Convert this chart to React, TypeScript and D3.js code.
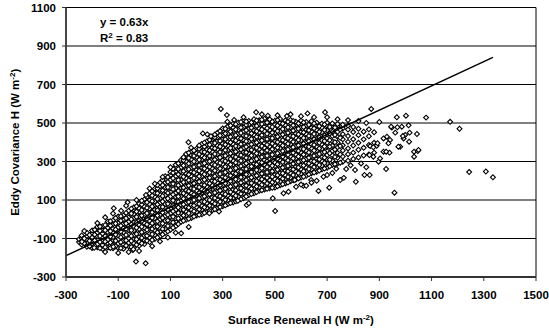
import React from "react";
import * as d3 from "d3";

// axis ticks
const xTicks = [-300, -100, 100, 300, 500, 700, 900, 1100, 1300, 1500];
const yTicks = [-300, -100, 100, 300, 500, 700, 900, 1100];

// trendline y = 0.63x, drawn over the data range
const slope = 0.63;
const rSquared = 0.83;
const fitFrom = -300;
const fitTo = 1335;

// dense cloud, read column by column (x, list of y)
const cloudColumns: [number, number[]][] = [
  [-250, [-118, -104]],
  [-240, [-131, -113, -98, -84]],
  [-220, [-143, -121, -106, -88, -70]],
  [-200, [-149, -128, -111, -93, -74, -58]],
  [-180, [-146, -130, -107, -88, -69, -52, -40]],
  [-160, [-154, -134, -115, -92, -75, -55, -36]],
  [-140, [-147, -124, -106, -83, -66, -44, -25, -12]],
  [-120, [-151, -133, -110, -92, -70, -49, -27, -6]],
  [-100, [-149, -126, -104, -85, -61, -42, -19, 4, 14]],
  [-80, [-153, -130, -112, -87, -68, -46, -24, -3, 20]],
  [-60, [-141, -122, -99, -79, -56, -35, -13, 9, 32, 44]],
  [-40, [-147, -125, -103, -83, -58, -39, -16, 5, 27, 50, 62]],
  [-20, [-138, -117, -92, -73, -51, -29, -8, 14, 38, 57, 80]],
  [0, [-129, -108, -86, -62, -44, -20, 3, 22, 46, 66, 89, 103]],
  [20, [-118, -95, -76, -51, -32, -8, 12, 36, 55, 79, 99, 122, 134]],
  [40, [-103, -81, -57, -38, -14, 5, 29, 49, 73, 92, 116, 136, 159]],
  [60, [-89, -64, -46, -21, -2, 22, 42, 65, 85, 109, 128, 152, 171, 190]],
  [80, [-72, -50, -26, -8, 17, 36, 61, 79, 104, 124, 147, 166, 191, 209, 224]],
  [100, [-55, -31, -13, 12, 30, 55, 74, 99, 118, 142, 161, 186, 204, 229, 246]],
  [120, [-37, -13, 5, 30, 49, 74, 93, 117, 136, 161, 180, 204, 223, 247, 266, 283]],
  [140, [-14, 8, 32, 51, 75, 95, 119, 138, 163, 182, 206, 225, 249, 268, 292, 307]],
  [160, [-3, 21, 40, 64, 84, 108, 127, 151, 171, 195, 214, 238, 258, 281, 301, 325, 339]],
  [180, [7, 31, 50, 74, 94, 118, 137, 161, 181, 204, 224, 248, 267, 291, 311, 334, 351]],
  [200, [19, 38, 63, 82, 106, 126, 149, 169, 193, 212, 236, 256, 279, 299, 323, 342, 366]],
  [220, [26, 50, 70, 93, 113, 137, 156, 180, 200, 223, 243, 267, 286, 310, 330, 351, 375, 391]],
  [240, [39, 59, 83, 102, 126, 146, 169, 189, 213, 232, 256, 276, 299, 319, 343, 362, 386, 405]],
  [260, [46, 70, 90, 113, 133, 157, 176, 200, 220, 241, 265, 285, 308, 328, 352, 371, 395, 415, 429]],
  [280, [59, 79, 103, 122, 146, 166, 189, 209, 233, 252, 276, 296, 319, 339, 363, 382, 406, 426, 449]],
  [300, [67, 91, 111, 134, 154, 178, 197, 221, 241, 262, 286, 306, 329, 349, 373, 392, 416, 436, 459, 471]],
  [320, [79, 99, 123, 142, 166, 186, 209, 229, 253, 272, 296, 316, 339, 359, 383, 402, 426, 446, 469, 483]],
  [340, [87, 111, 131, 154, 174, 198, 217, 241, 261, 284, 304, 328, 347, 371, 391, 414, 434, 458, 477, 496]],
  [360, [99, 119, 142, 162, 186, 205, 229, 249, 272, 292, 316, 335, 359, 379, 402, 422, 446, 465, 489, 502]],
  [380, [109, 133, 152, 176, 196, 219, 239, 263, 282, 306, 326, 349, 369, 393, 412, 436, 456, 479, 499, 513]],
  [400, [126, 145, 169, 189, 212, 232, 256, 275, 299, 319, 342, 362, 386, 405, 429, 449, 472, 492, 511]],
  [420, [135, 159, 178, 202, 222, 245, 265, 289, 308, 332, 352, 375, 395, 419, 438, 462, 482, 505, 520]],
  [440, [148, 167, 191, 211, 234, 254, 278, 297, 321, 341, 364, 384, 408, 427, 451, 471, 494, 515]],
  [460, [154, 178, 198, 221, 241, 265, 284, 308, 328, 351, 371, 395, 414, 438, 458, 481, 501, 522]],
  [480, [161, 181, 204, 224, 248, 267, 291, 311, 334, 354, 378, 397, 421, 441, 464, 484, 508, 519]],
  [500, [165, 189, 209, 232, 252, 276, 295, 319, 339, 362, 382, 406, 425, 449, 469, 492, 512]],
  [520, [177, 197, 220, 240, 264, 283, 307, 327, 350, 370, 394, 413, 437, 457, 480, 500, 521]],
  [540, [186, 210, 229, 253, 273, 296, 316, 340, 359, 383, 403, 426, 446, 470, 489, 513]],
  [560, [197, 217, 240, 260, 284, 303, 327, 347, 370, 390, 414, 433, 457, 477, 500, 516]],
  [580, [206, 230, 249, 273, 293, 316, 336, 360, 379, 403, 423, 446, 466, 490, 507]],
  [600, [217, 237, 260, 280, 304, 323, 347, 367, 390, 410, 434, 453, 477, 497, 512]],
  [620, [226, 250, 269, 293, 313, 336, 356, 380, 399, 423, 443, 466, 486, 505]],
  [640, [239, 259, 282, 302, 326, 345, 369, 389, 412, 432, 456, 475, 499, 509]],
  [660, [247, 271, 290, 314, 334, 357, 377, 401, 420, 444, 464, 487, 502]],
  [680, [259, 279, 303, 322, 346, 366, 389, 409, 433, 452, 476, 496]],
  [700, [267, 291, 311, 334, 354, 378, 397, 421, 441, 462, 486, 501]],
  [720, [282, 305, 332, 355, 382, 405, 432, 455, 482, 498]],
  [740, [289, 319, 344, 374, 399, 429, 454, 484, 495]],
  [760, [299, 326, 357, 384, 415, 442, 473, 491]],
  [780, [304, 338, 368, 402, 432, 466, 487]],
  [800, [313, 346, 383, 416, 453, 479]],
  [820, [321, 361, 397, 437, 470]],
  [840, [331, 371, 415, 455]],
  [860, [337, 386, 431, 467]],
  [880, [346, 397, 452]],
];

// in-between columns of the cloud (sparser)
const cloudMidColumns: [number, number[]][] = [
  [-230, [-125, -100]],
  [-210, [-140, -112, -82]],
  [-190, [-139, -110, -80, -55]],
  [-170, [-150, -118, -87, -60, -38]],
  [-150, [-145, -116, -88, -57, -30]],
  [-130, [-149, -121, -90, -62, -33, -10]],
  [-110, [-140, -112, -80, -53, -22, 6]],
  [-90, [-150, -119, -93, -64, -34, -8, 16]],
  [-70, [-137, -110, -82, -50, -22, 5, 33]],
  [-50, [-144, -113, -87, -57, -27, 0, 30, 55]],
  [-30, [-133, -104, -76, -44, -18, 12, 40, 68]],
  [-10, [-125, -97, -67, -39, -9, 19, 48, 76, 96]],
  [10, [-112, -86, -55, -27, 2, 31, 59, 88, 116]],
  [30, [-108, -78, -50, -21, 8, 36, 66, 94, 123, 146]],
  [50, [-95, -68, -38, -11, 19, 47, 77, 105, 135, 160, 178]],
  [70, [-79, -50, -22, 7, 35, 64, 92, 121, 150, 177, 204]],
  [90, [-63, -35, -6, 23, 51, 80, 108, 137, 166, 194, 219]],
  [110, [-44, -17, 13, 41, 70, 98, 128, 156, 184, 213, 241, 262]],
  [130, [-25, 4, 33, 61, 90, 118, 147, 176, 204, 233, 261, 290]],
  [150, [-8, 20, 49, 77, 107, 135, 164, 192, 221, 250, 279, 306, 322]],
  [170, [2, 31, 60, 89, 117, 146, 175, 203, 232, 260, 289, 318, 345]],
  [190, [14, 42, 71, 100, 128, 157, 186, 214, 243, 272, 300, 329, 357]],
  [210, [23, 51, 80, 109, 137, 166, 195, 223, 252, 281, 309, 338, 366, 383]],
  [230, [33, 62, 91, 119, 148, 177, 205, 234, 263, 291, 320, 349, 377, 398]],
  [250, [43, 71, 100, 129, 157, 186, 215, 243, 272, 301, 329, 358, 387, 412]],
  [270, [52, 81, 110, 138, 167, 196, 224, 253, 282, 310, 339, 368, 396, 425, 440]],
  [290, [63, 91, 120, 149, 177, 206, 235, 263, 292, 321, 349, 378, 407, 435, 458]],
  [310, [72, 101, 130, 158, 187, 216, 244, 273, 302, 330, 359, 388, 416, 445, 470]],
  [330, [84, 112, 141, 170, 198, 227, 256, 284, 313, 342, 370, 399, 428, 456, 487]],
  [350, [93, 122, 151, 179, 208, 237, 265, 294, 323, 351, 380, 409, 437, 466, 494]],
  [370, [104, 132, 161, 190, 218, 247, 276, 304, 333, 362, 390, 419, 448, 476, 505]],
  [390, [118, 147, 175, 204, 233, 261, 290, 319, 347, 376, 405, 433, 462, 490, 508]],
  [410, [131, 159, 188, 217, 245, 274, 303, 331, 360, 389, 417, 446, 475, 503]],
  [430, [141, 170, 199, 227, 256, 285, 313, 342, 371, 399, 428, 457, 485, 513]],
  [450, [151, 179, 208, 237, 265, 294, 323, 351, 380, 409, 437, 466, 495, 517]],
  [470, [158, 186, 215, 244, 272, 301, 330, 358, 387, 416, 444, 473, 502]],
  [490, [163, 192, 221, 249, 278, 307, 335, 364, 393, 421, 450, 479, 507]],
  [510, [171, 200, 229, 257, 286, 315, 343, 372, 401, 429, 458, 487, 515]],
  [530, [182, 211, 239, 268, 297, 325, 354, 383, 411, 440, 469, 497]],
  [550, [191, 220, 249, 277, 306, 335, 363, 392, 421, 449, 478, 506]],
  [570, [202, 230, 259, 288, 316, 345, 374, 402, 431, 460, 488, 511]],
  [590, [212, 240, 269, 298, 326, 355, 384, 412, 441, 470, 498]],
  [610, [221, 250, 279, 307, 336, 365, 393, 422, 451, 479, 503]],
  [630, [233, 261, 290, 319, 347, 376, 405, 433, 462, 491]],
  [650, [243, 271, 300, 329, 357, 386, 415, 443, 472, 498]],
  [670, [253, 282, 311, 339, 368, 397, 425, 454, 483]],
  [690, [263, 292, 320, 349, 378, 406, 435, 464, 492]],
  [710, [275, 309, 343, 377, 411, 445, 479]],
  [730, [286, 324, 362, 400, 438, 476]],
  [750, [294, 337, 380, 423, 466]],
];

// scattered points outside the dense band
const scatterPoints: [number, number][] = [
  [-230, -61], [-192, -148], [-239, -117], [-117, 57], [-64, 88], [-89, 44], [141, -73], [6, 126],
  [-44, -160], [-32, -220], [5, -229], [-42, -156], [-119, -143], [-150, -170], [-100, -175],
  [-60, -170], [-20, -165], [30, -140], [60, -115], [90, -95], [120, -70], [170, -40],
  [-180, -20], [-150, 10], [-120, 30], [-70, 70], [-30, 100], [20, 160], [40, 185], [70, 220], [100, 270],
  [501, 43], [492, 109], [392, 74], [286, 40], [249, 31], [358, 96], [400, 83], [552, 143], [581, 169],
  [533, 135], [667, 147], [708, 164], [609, 174], [620, 174], [750, 204], [764, 215], [810, 195],
  [843, 230], [926, 261], [807, 256], [773, 261], [576, 204], [639, 204], [686, 221], [863, 230],
  [720, 240], [735, 262], [790, 280], [830, 290], [850, 270], [700, 230], [660, 200], [640, 190], [600, 180],
  [293, 573], [316, 541], [318, 507], [344, 516], [224, 446], [241, 441], [255, 431], [169, 400], [179, 372],
  [428, 556], [473, 538], [546, 536], [625, 550], [692, 556], [869, 573], [380, 530], [450, 545],
  [510, 540], [560, 545], [600, 535], [650, 530], [700, 530], [740, 520], [780, 515], [820, 510],
  [850, 500], [900, 505], [967, 530], [1002, 538], [1079, 528], [1171, 506], [1207, 470],
  [1244, 245], [1308, 248], [1335, 218], [958, 138],
  [986, 481], [1012, 488], [993, 420], [999, 438], [1016, 450], [1044, 443], [1014, 403], [1033, 351],
  [1047, 354], [1033, 325], [980, 377], [948, 476], [941, 412], [929, 429], [990, 432], [973, 377],
  [939, 346], [916, 351], [897, 299], [903, 316], [877, 325], [890, 382], [865, 380], [961, 450],
  [945, 481], [969, 478], [935, 395], [916, 420], [893, 395], [926, 351], [862, 334], [877, 374], [1050, 360],
];

const W = 549;
const H = 331;
const plot = { left: 66, right: 536, top: 7.5, bottom: 277 };
const font = "'Liberation Sans', Arial, sans-serif";

export default function App() {
  const x = d3.scaleLinear().domain([-300, 1500]).range([plot.left, plot.right]);
  const y = d3.scaleLinear().domain([-300, 1100]).range([plot.bottom, plot.top]);

  const fromColumns = (cols: [number, number[]][]) =>
    cols.flatMap(([cx, ys]) => ys.map((v) => [cx, v] as [number, number]));
  const points: [number, number][] = [
    ...fromColumns(cloudColumns),
    ...fromColumns(cloudMidColumns),
    ...scatterPoints,
  ];
  const marker = d3.symbol(d3.symbolSquare, 12)() as string;
  const fitLine = d3.line<number>().x((d) => x(d)).y((d) => y(slope * d))([fitFrom, fitTo]) as string;

  return (
    <>
      <style>{`body{margin:0}`}</style>
      <svg width={W} height={H} style={{ display: "block", background: "#fff" }} fontFamily={font}>
        {/* gridlines */}
        {yTicks.slice(1).map((t) => (
          <line key={t} x1={plot.left} x2={plot.right} y1={y(t)} y2={y(t)} stroke="#000" strokeWidth={1} />
        ))}
        <line x1={plot.right} x2={plot.right} y1={plot.top} y2={plot.bottom} stroke="#000" strokeWidth={1} />

        {/* points */}
        <g fill="#fff" stroke="#000" strokeWidth={1.1}>
          {points.map(([px, py], i) => (
            <path key={i} d={marker} transform={`translate(${x(px)},${y(py)}) rotate(45)`} />
          ))}
        </g>

        {/* trendline */}
        <path d={fitLine} fill="none" stroke="#000" strokeWidth={1.5} />

        {/* axes */}
        <line x1={plot.left} x2={plot.left} y1={plot.top} y2={plot.bottom} stroke="#333" strokeWidth={1.8} />
        <line x1={plot.left} x2={plot.right} y1={plot.bottom} y2={plot.bottom} stroke="#333" strokeWidth={1.8} />
        {yTicks.map((t) => (
          <g key={t}>
            <line x1={plot.left - 4} x2={plot.left} y1={y(t)} y2={y(t)} stroke="#333" strokeWidth={1} />
            <text x={plot.left - 10} y={y(t)} dy="0.35em" textAnchor="end" fontSize={11.5} fontWeight="bold">
              {t}
            </text>
          </g>
        ))}
        {xTicks.map((t) => (
          <g key={t}>
            <line x1={x(t)} x2={x(t)} y1={plot.bottom} y2={plot.bottom + 4} stroke="#333" strokeWidth={1} />
            <text x={x(t)} y={plot.bottom + 18} dy="0.35em" textAnchor="middle" fontSize={11.5} fontWeight="bold">
              {t}
            </text>
          </g>
        ))}

        {/* axis titles */}
        <text x={(plot.left + plot.right) / 2} y={324} textAnchor="middle" fontSize={11.5} fontWeight="bold">
          Surface Renewal H (W m<tspan dy={-4} fontSize={8}>-2</tspan>
          <tspan dy={4}>)</tspan>
        </text>
        <text
          transform={`translate(19,${(plot.top + plot.bottom) / 2}) rotate(-90)`}
          textAnchor="middle"
          fontSize={11.5}
          fontWeight="bold"
        >
          Eddy Covariance H (W m<tspan dy={-4} fontSize={8}>-2</tspan>
          <tspan dy={4}>)</tspan>
        </text>

        {/* equation */}
        <text x={100} y={26} fontSize={11.5} fontWeight="bold">
          y = {slope}x
        </text>
        <text x={100} y={42} fontSize={11.5} fontWeight="bold">
          R<tspan dy={-4} fontSize={8}>2</tspan>
          <tspan dy={4}> = {rSquared}</tspan>
        </text>
      </svg>
    </>
  );
}
